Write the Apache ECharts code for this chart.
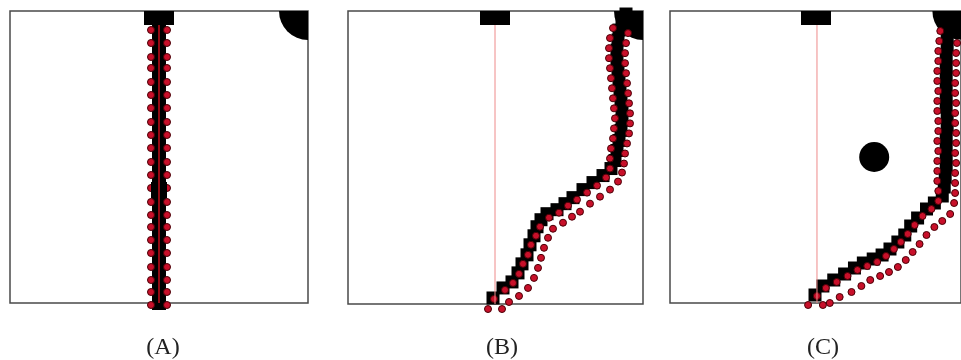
<!DOCTYPE html>
<html>
<head>
<meta charset="utf-8">
<script src="https://cdn.jsdelivr.net/npm/echarts@6/dist/echarts.min.js"></script>
<style>
  html, body { margin: 0; padding: 0; background: #fff; }
  #main { width: 961px; height: 360px; }
</style>
</head>
<body>
<div id="main"></div>
<script>
// panel-local coordinates: x right from frame left, y down from frame top (1 unit ~ 1px)
const panelLabels = ['(A)', '(B)', '(C)'];

// start marker (top) and goal (top-right corner) per panel
const startPts = [[149, 7], [147, 7], [148, 7]];
const goalPts = [[298, 0], [295, 0], [295, 0]];
const goalRadius = 29;
const refLineX = [149, 147, 149];

// obstacle only in (C)
const obstacleC = [[207, 146]];

// (A) straight path
const pathA = [[149, 19], [149, 32], [149, 46], [149, 57], [149, 71], [149, 84], [149, 97], [149, 111],
  [149, 124], [149, 137], [149, 151], [149, 164], [149, 177], [149, 191], [149, 204], [149, 216],
  [149, 229], [149, 242], [149, 256], [149, 269], [149, 281], [149, 292]];
const robotA = [[149, 179]];
const dotsA1 = [[141, 19], [141, 32], [141, 46], [141, 57], [141, 71], [141, 84], [141, 97], [141, 111],
  [141, 124], [141, 137], [141, 151], [141, 164], [141, 177], [141, 191], [141, 204], [141, 216],
  [141, 229], [141, 242], [141, 256], [141, 269], [141, 281], [141, 294]];
const dotsA2 = [[157, 19], [157, 32], [157, 46], [157, 57], [157, 71], [157, 84], [157, 97], [157, 111],
  [157, 124], [157, 137], [157, 151], [157, 164], [157, 177], [157, 191], [157, 204], [157, 216],
  [157, 229], [157, 242], [157, 256], [157, 269], [157, 281], [157, 294]];

// (B) path
const pathB = [[145, 286], [155, 276], [164, 270], [170, 261], [174, 252], [179, 243], [182, 233], [186, 224],
  [189, 215], [193, 208], [199, 202], [209, 198], [217, 192], [225, 186], [235, 178], [245, 171],
  [255, 164], [263, 157], [267, 149], [269, 139], [271, 129], [273, 119], [274, 109], [274, 99],
  [273, 89], [272, 79], [271, 69], [270, 59], [269, 49], [269, 39], [270, 29], [271, 19], [274, 9], [278, 3]];
const dotsB1 = [[140, 297], [146, 287], [157, 278], [165, 271], [171, 262], [175, 252], [180, 243], [183, 233],
  [188, 224], [192, 215], [201, 206], [211, 201], [220, 194], [229, 188], [239, 181], [249, 174],
  [258, 166], [262, 157], [262, 147], [263, 137], [265, 127], [266, 117], [267, 107], [266, 97],
  [265, 87], [264, 77], [263, 67], [262, 57], [261, 47], [261, 37], [262, 27], [265, 17]];
const dotsB2 = [[154, 297], [161, 290], [171, 284], [180, 276], [186, 266], [190, 256], [193, 246], [196, 236],
  [200, 226], [205, 217], [215, 211], [224, 205], [232, 200], [242, 192], [252, 185], [262, 178],
  [270, 170], [274, 161], [276, 152], [277, 142], [279, 132], [281, 122], [282, 112], [282, 102],
  [281, 92], [280, 82], [279, 72], [278, 62], [277, 52], [277, 42], [278, 32], [280, 22]];

// (C) path around the obstacle
const pathC = [[147, 284], [155, 275], [166, 269], [177, 263], [187, 257], [196, 252], [206, 248], [215, 244],
  [223, 238], [231, 231], [238, 224], [244, 215], [251, 207], [260, 198], [268, 192], [276, 185],
  [278, 176], [279, 166], [280, 156], [280, 146], [280, 136], [280, 126], [281, 116], [281, 106],
  [280, 96], [280, 86], [280, 76], [280, 66], [280, 56], [280, 46], [281, 36], [281, 26], [282, 16], [283, 7]];
const dotsC1 = [[140, 294], [149, 285], [158, 277], [169, 271], [180, 265], [190, 259], [200, 255], [210, 251],
  [219, 245], [227, 238], [234, 231], [241, 223], [248, 214], [256, 205], [265, 198], [272, 190],
  [272, 180], [271, 170], [271, 160], [271, 150], [272, 140], [271, 130], [272, 120], [272, 110],
  [271, 100], [271, 90], [272, 80], [271, 70], [271, 60], [272, 50], [272, 40], [273, 30], [274, 20]];
const dotsC2 = [[155, 294], [162, 292], [172, 286], [184, 281], [194, 275], [203, 269], [213, 265], [222, 261],
  [231, 256], [239, 249], [246, 241], [253, 233], [260, 224], [268, 216], [276, 210], [284, 203],
  [288, 192], [289, 182], [289, 172], [289, 162], [290, 152], [289, 142], [290, 132], [290, 122],
  [289, 112], [289, 102], [290, 92], [289, 82], [289, 72], [290, 62], [290, 52], [290, 42], [291, 32]];

const chart = echarts.init(document.getElementById('main'));

const grids = [
  { left: 10, top: 11, width: 298, height: 292 },
  { left: 348, top: 11, width: 295, height: 293 },
  { left: 670, top: 11, width: 295, height: 292 }
];
const xMax = [298, 295, 295];

const paths = [pathA, pathB, pathC];
const dots1 = [dotsA1, dotsB1, dotsC1];
const dots2 = [dotsA2, dotsB2, dotsC2];
const squareSize = [[14, 14], 13, 13];
const black = { color: '#000', opacity: 1 };
const dotStyle = { color: '#c8102a', borderColor: '#4a0006', borderWidth: 1, opacity: 1 };

const series = [];
for (let i = 0; i < 3; i++) {
  // goal: quarter circle in the top-right corner
  series.push({
    type: 'custom', xAxisIndex: i, yAxisIndex: i, z: 2,
    data: [goalPts[i]],
    renderItem: (params, api) => {
      const p = api.coord([api.value(0), api.value(1)]);
      const r = api.size([goalRadius, goalRadius])[0];
      return {
        type: 'sector',
        shape: { cx: p[0], cy: p[1], r0: 0, r: r, startAngle: Math.PI / 2, endAngle: Math.PI, clockwise: true },
        style: { fill: '#000' }
      };
    }
  });
  series.push({
    type: 'scatter', xAxisIndex: i, yAxisIndex: i, z: 3, clip: false,
    symbol: 'rect', symbolSize: squareSize[i],
    itemStyle: black,
    data: paths[i]
  });
  series.push({
    type: 'scatter', xAxisIndex: i, yAxisIndex: i, z: 4, clip: false,
    symbol: 'circle', symbolSize: 7, itemStyle: dotStyle,
    data: dots1[i].concat(dots2[i])
  });
  series.push({
    type: 'line', xAxisIndex: i, yAxisIndex: i, z: 5, symbol: 'none',
    lineStyle: { color: i === 0 ? '#c4101c' : '#ee8a8a', width: i === 0 ? 1.5 : 1 },
    data: [[refLineX[i], startPts[i][1]], [refLineX[i], 292]]
  });
  series.push({
    type: 'scatter', xAxisIndex: i, yAxisIndex: i, z: 6, clip: false,
    symbol: 'rect', symbolSize: [30, 14],
    itemStyle: black,
    data: [startPts[i]]
  });
}
series.push({
  type: 'scatter', xAxisIndex: 0, yAxisIndex: 0, z: 4, clip: false,
  symbol: 'rect', symbolSize: 16, itemStyle: black,
  data: robotA
});
series.push({
  type: 'scatter', xAxisIndex: 2, yAxisIndex: 2, z: 3, clip: false,
  symbol: 'circle', symbolSize: 30, itemStyle: black,
  data: obstacleC
});

const labelX = [158, 497, 818];

const option = {
  animation: false,
  backgroundColor: '#fff',
  title: panelLabels.map((t, i) => ({
    text: t, left: labelX[i], top: 331, textAlign: 'center',
    textStyle: { fontFamily: 'Liberation Serif', fontSize: 24, fontWeight: 'normal', color: '#222' }
  })),
  grid: grids.map(g => Object.assign({ show: true, borderColor: '#4a4a4a', borderWidth: 1.5, backgroundColor: '#fff' }, g)),
  xAxis: grids.map((g, i) => ({ type: 'value', gridIndex: i, min: 0, max: xMax[i], show: false })),
  yAxis: grids.map((g, i) => ({ type: 'value', gridIndex: i, min: 0, max: 292, inverse: true, show: false })),
  series: series
};

chart.setOption(option);
</script>
</body>
</html>
